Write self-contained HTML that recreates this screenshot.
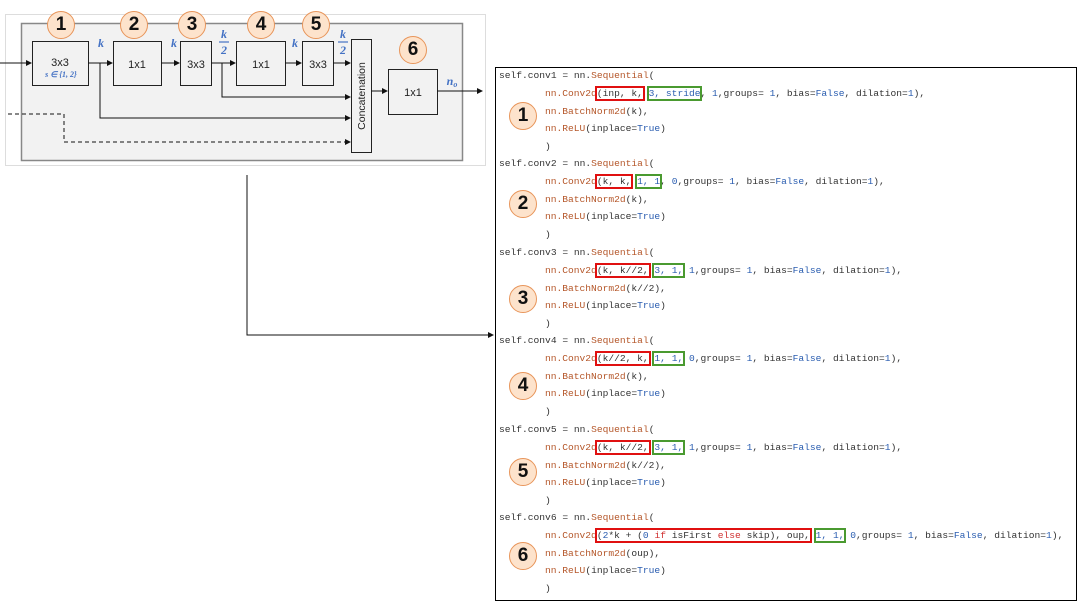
<!DOCTYPE html>
<html><head><meta charset="utf-8"><style>
body{margin:0;width:1087px;height:611px;background:#fff;position:relative;overflow:hidden;font-family:"Liberation Sans",sans-serif}
.code{position:absolute;left:495px;top:67px;width:582px;height:534px;border:1.5px solid #000;box-sizing:border-box}
.l{position:absolute;font-family:"Liberation Mono",monospace;font-size:9.6px;color:#333;white-space:pre;line-height:12px}
.o{color:#b5572a}.b{color:#2a5db0}.r{color:#d03030}
.R{outline:2px solid #e01010;outline-offset:0}
.G{outline:2px solid #4a9a30;outline-offset:0}
.c{position:absolute;width:28px;height:28px;border-radius:50%;background:#fde3cc;border:1.5px solid #e8955a;box-sizing:border-box;font:bold 19px "Liberation Sans",sans-serif;text-align:center;line-height:26px;color:#111}
</style></head><body>
<svg width="1087" height="611" style="position:absolute;left:0;top:0">
<defs><marker id="a" markerWidth="6" markerHeight="6" refX="5" refY="3" orient="auto"><path d="M0,0L6,3L0,6z" fill="#111"/></marker></defs>
<rect x="5.5" y="14.5" width="480" height="151" fill="#fff" stroke="#ddd"/>
<rect x="21.5" y="23.5" width="441" height="137" fill="#f2f2f2" stroke="#888" stroke-width="1.5"/>
<g fill="#f2f2f2" stroke="#222" stroke-width="1">
<rect x="32.5" y="41.5" width="56" height="44"/>
<rect x="113.5" y="41.5" width="48" height="44"/>
<rect x="180.5" y="41.5" width="31" height="44"/>
<rect x="236.5" y="41.5" width="49" height="44"/>
<rect x="302.5" y="41.5" width="31" height="44"/>
<rect x="351.5" y="39.5" width="20" height="113"/>
<rect x="388.5" y="69.5" width="49" height="45"/>
</g>
<g stroke="#111" stroke-width="1" fill="none" marker-end="url(#a)">
<path d="M0,63H31"/><path d="M88,63H112"/><path d="M161,63H179"/><path d="M211,63H235"/><path d="M285,63H301"/><path d="M333,63H350"/>
<path d="M222,63V97H350"/><path d="M100,63V118H350"/><path d="M371,91H387"/><path d="M437,91H482"/>
<path d="M8,114H64V142H350" stroke-dasharray="4,3"/>
<path d="M247,175V335H493"/>
</g>
<g font-family="Liberation Sans" font-size="11" fill="#222" text-anchor="middle">
<text x="60" y="66">3x3</text><text x="137" y="68">1x1</text><text x="196" y="68">3x3</text><text x="261" y="68">1x1</text><text x="318" y="68">3x3</text><text x="413" y="96">1x1</text>
<text transform="translate(365,96) rotate(-90)" font-size="10.5">Concatenation</text>
</g>
<g font-family="Liberation Serif" font-weight="bold" font-style="italic" fill="#4472c4" font-size="12" text-anchor="middle">
<text x="61" y="77" font-size="8">s ∈ {1, 2}</text>
<text x="101" y="47">k</text><text x="174" y="47">k</text><text x="224" y="38">k</text><text x="224" y="54">2</text>
<text x="295" y="47">k</text><text x="343" y="38">k</text><text x="343" y="54">2</text><text x="452" y="85">n<tspan font-size="8" dy="2">o</tspan></text>
</g>
<g stroke="#4472c4" stroke-width="1.2"><path d="M219,42H229"/><path d="M338,42H348"/></g>
</svg>
<div class="c" style="left:47px;top:11px">1</div>
<div class="c" style="left:120px;top:11px">2</div>
<div class="c" style="left:178px;top:11px">3</div>
<div class="c" style="left:247px;top:11px">4</div>
<div class="c" style="left:302px;top:11px">5</div>
<div class="c" style="left:399px;top:36px">6</div>
<div class="code"></div>

<div class="c" style="left:509px;top:102px">1</div>
<div class="c" style="left:509px;top:190px">2</div>
<div class="c" style="left:509px;top:285px">3</div>
<div class="c" style="left:509px;top:372px">4</div>
<div class="c" style="left:509px;top:458px">5</div>
<div class="c" style="left:509px;top:542px">6</div>

<div class="l" style="left:499px;top:70px">self.conv1 = nn.<span class="o">Sequential</span>(</div>
<div class="l" style="left:545px;top:88px"><span class="o">nn.Conv2d</span><span class="R">(inp, k,</span> <span class="G b">3, stride</span>, <span class="b">1</span>,groups= <span class="b">1</span>, bias=<span class="b">False</span>, dilation=<span class="b">1</span>),</div>
<div class="l" style="left:545px;top:106px"><span class="o">nn.BatchNorm2d</span>(k),</div>
<div class="l" style="left:545px;top:123px"><span class="o">nn.ReLU</span>(inplace=<span class="b">True</span>)</div>
<div class="l" style="left:545px;top:141px">)</div>

<div class="l" style="left:499px;top:158px">self.conv2 = nn.<span class="o">Sequential</span>(</div>
<div class="l" style="left:545px;top:176px"><span class="o">nn.Conv2d</span><span class="R">(k, k,</span> <span class="G b">1, 1</span>, <span class="b">0</span>,groups= <span class="b">1</span>, bias=<span class="b">False</span>, dilation=<span class="b">1</span>),</div>
<div class="l" style="left:545px;top:194px"><span class="o">nn.BatchNorm2d</span>(k),</div>
<div class="l" style="left:545px;top:211px"><span class="o">nn.ReLU</span>(inplace=<span class="b">True</span>)</div>
<div class="l" style="left:545px;top:229px">)</div>

<div class="l" style="left:499px;top:247px">self.conv3 = nn.<span class="o">Sequential</span>(</div>
<div class="l" style="left:545px;top:265px"><span class="o">nn.Conv2d</span><span class="R">(k, k//2,</span> <span class="G b">3, 1,</span> <span class="b">1</span>,groups= <span class="b">1</span>, bias=<span class="b">False</span>, dilation=<span class="b">1</span>),</div>
<div class="l" style="left:545px;top:283px"><span class="o">nn.BatchNorm2d</span>(k//2),</div>
<div class="l" style="left:545px;top:300px"><span class="o">nn.ReLU</span>(inplace=<span class="b">True</span>)</div>
<div class="l" style="left:545px;top:318px">)</div>

<div class="l" style="left:499px;top:335px">self.conv4 = nn.<span class="o">Sequential</span>(</div>
<div class="l" style="left:545px;top:353px"><span class="o">nn.Conv2d</span><span class="R">(k//2, k,</span> <span class="G b">1, 1,</span> <span class="b">0</span>,groups= <span class="b">1</span>, bias=<span class="b">False</span>, dilation=<span class="b">1</span>),</div>
<div class="l" style="left:545px;top:371px"><span class="o">nn.BatchNorm2d</span>(k),</div>
<div class="l" style="left:545px;top:388px"><span class="o">nn.ReLU</span>(inplace=<span class="b">True</span>)</div>
<div class="l" style="left:545px;top:406px">)</div>

<div class="l" style="left:499px;top:424px">self.conv5 = nn.<span class="o">Sequential</span>(</div>
<div class="l" style="left:545px;top:442px"><span class="o">nn.Conv2d</span><span class="R">(k, k//2,</span> <span class="G b">3, 1,</span> <span class="b">1</span>,groups= <span class="b">1</span>, bias=<span class="b">False</span>, dilation=<span class="b">1</span>),</div>
<div class="l" style="left:545px;top:460px"><span class="o">nn.BatchNorm2d</span>(k//2),</div>
<div class="l" style="left:545px;top:477px"><span class="o">nn.ReLU</span>(inplace=<span class="b">True</span>)</div>
<div class="l" style="left:545px;top:495px">)</div>

<div class="l" style="left:499px;top:512px">self.conv6 = nn.<span class="o">Sequential</span>(</div>
<div class="l" style="left:545px;top:530px"><span class="o">nn.Conv2d</span><span class="R">(<span class="b">2</span>*k + (<span class="b">0</span> <span class="r">if</span> isFirst <span class="r">else</span> skip), oup,</span> <span class="G b">1, 1,</span> <span class="b">0</span>,groups= <span class="b">1</span>, bias=<span class="b">False</span>, dilation=<span class="b">1</span>),</div>
<div class="l" style="left:545px;top:548px"><span class="o">nn.BatchNorm2d</span>(oup),</div>
<div class="l" style="left:545px;top:565px"><span class="o">nn.ReLU</span>(inplace=<span class="b">True</span>)</div>
<div class="l" style="left:545px;top:583px">)</div>
</body></html>
